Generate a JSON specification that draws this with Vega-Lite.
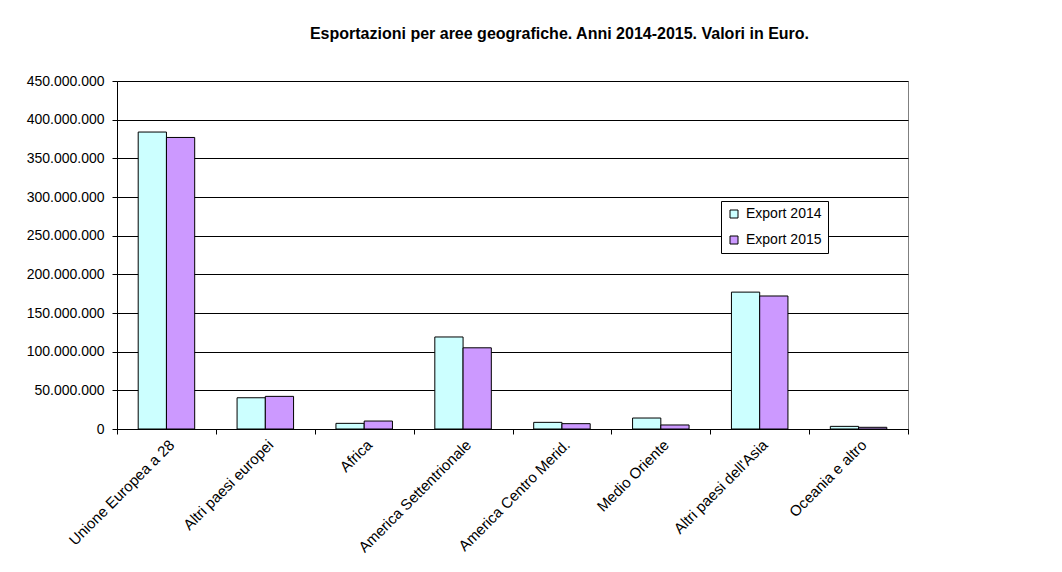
{
  "$schema": "https://vega.github.io/schema/vega-lite/v6.json",
  "width": 791,
  "height": 348,
  "autosize": "none",
  "padding": {"left": 117, "top": 81, "right": 154, "bottom": 143},
  "background": "white",
  "title": {
    "text": "Esportazioni per aree geografiche. Anni 2014-2015. Valori in Euro.",
    "font": "Liberation Sans",
    "fontSize": 16,
    "fontWeight": "bold",
    "color": "black",
    "anchor": "middle",
    "frame": "group",
    "dx": 47,
    "offset": 32
  },
  "config": {
    "locale": {"number": {"decimal": ",", "thousands": ".", "grouping": [3], "currency": ["€", ""]}},
    "view": {"stroke": "#808080", "strokeWidth": 1},
    "axis": {
      "labelFont": "Liberation Sans",
      "labelColor": "black",
      "domainColor": "black",
      "tickColor": "black",
      "gridColor": "black",
      "gridOpacity": 1,
      "titleFont": "Liberation Sans"
    },
    "legend": {"labelFont": "Liberation Sans"}
  },
  "data": {
    "values": [
      {"area": "Unione Europea a 28", "serie": "Export 2014", "valore": 384000000},
      {"area": "Unione Europea a 28", "serie": "Export 2015", "valore": 377000000},
      {"area": "Altri paesi europei", "serie": "Export 2014", "valore": 40400000},
      {"area": "Altri paesi europei", "serie": "Export 2015", "valore": 42200000},
      {"area": "Africa", "serie": "Export 2014", "valore": 7300000},
      {"area": "Africa", "serie": "Export 2015", "valore": 10300000},
      {"area": "America Settentrionale", "serie": "Export 2014", "valore": 119000000},
      {"area": "America Settentrionale", "serie": "Export 2015", "valore": 105000000},
      {"area": "America Centro Merid.", "serie": "Export 2014", "valore": 8600000},
      {"area": "America Centro Merid.", "serie": "Export 2015", "valore": 6900000},
      {"area": "Medio Oriente", "serie": "Export 2014", "valore": 14200000},
      {"area": "Medio Oriente", "serie": "Export 2015", "valore": 5200000},
      {"area": "Altri paesi dell'Asia", "serie": "Export 2014", "valore": 177000000},
      {"area": "Altri paesi dell'Asia", "serie": "Export 2015", "valore": 172000000},
      {"area": "Oceania e altro", "serie": "Export 2014", "valore": 3400000},
      {"area": "Oceania e altro", "serie": "Export 2015", "valore": 2200000}
    ]
  },
  "mark": {"type": "bar", "stroke": "black", "strokeWidth": 1},
  "encoding": {
    "x": {
      "field": "area",
      "type": "nominal",
      "sort": null,
      "scale": {"paddingInner": 0, "paddingOuter": 0},
      "axis": {
        "title": null,
        "labelAngle": -45,
        "labelAlign": "right",
        "labelBaseline": "top",
        "labelFontSize": 15,
        "labelPadding": 3,
        "tickBand": "extent",
        "tickSize": 5,
        "grid": false
      }
    },
    "xOffset": {
      "field": "serie",
      "type": "nominal",
      "scale": {"paddingInner": 0, "paddingOuter": 0.75}
    },
    "y": {
      "field": "valore",
      "type": "quantitative",
      "scale": {"domain": [0, 450000000], "nice": false},
      "axis": {
        "title": null,
        "values": [0, 50000000, 100000000, 150000000, 200000000, 250000000, 300000000, 350000000, 400000000, 450000000],
        "format": ",.0f",
        "labelFontSize": 14,
        "labelPadding": 8,
        "tickSize": 5,
        "grid": true
      }
    },
    "color": {
      "field": "serie",
      "type": "nominal",
      "scale": {"domain": ["Export 2014", "Export 2015"], "range": ["#CCFFFF", "#CC99FF"]},
      "legend": {
        "title": null,
        "orient": "none",
        "legendX": 604,
        "legendY": 120,
        "fillColor": "white",
        "strokeColor": "black",
        "padding": 6,
        "labelFontSize": 14,
        "labelColor": "black",
        "labelOffset": 5,
        "symbolType": "square",
        "symbolSize": 64,
        "symbolStrokeColor": "black",
        "symbolStrokeWidth": 1,
        "rowPadding": 12
      }
    }
  }
}
